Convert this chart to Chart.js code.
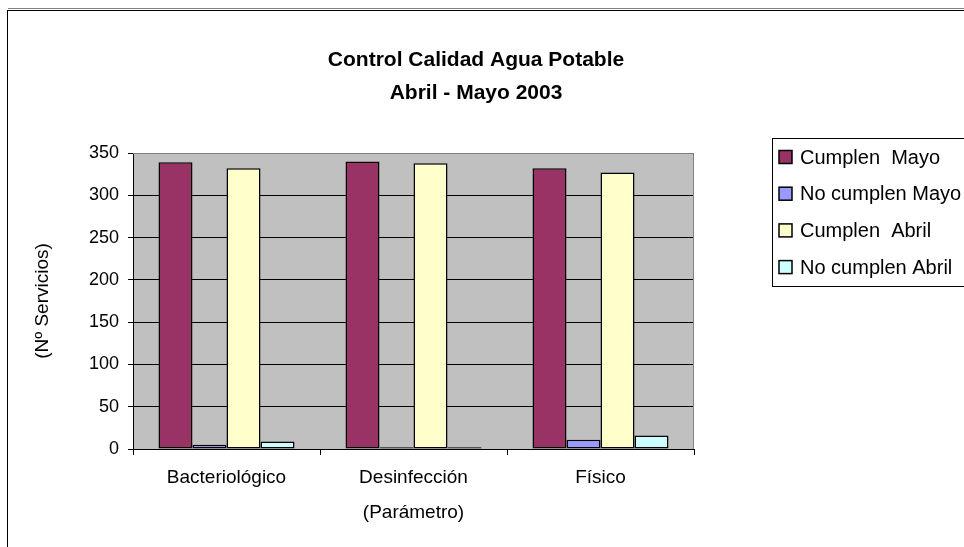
<!DOCTYPE html>
<html>
<head>
<meta charset="utf-8">
<script src="https://cdn.jsdelivr.net/npm/chart.js@4.4.1/dist/chart.umd.min.js"></script>
<style>
  body { margin: 0; background: #fff; }
  #chart { display: block; }
</style>
</head>
<body>
<canvas id="chart" width="964" height="547"></canvas>
<script>
// Data
const categories = ['Bacteriológico', 'Desinfección', 'Físico'];
const seriesNames = ['Cumplen  Mayo', 'No cumplen Mayo', 'Cumplen  Abril', 'No cumplen Abril'];
const cumplenMayo = [339, 340, 332];
const noCumplenMayo = [5, 2, 11];
const cumplenAbril = [332, 338, 327];
const noCumplenAbril = [9, 2, 16];
const seriesColors = ['#993366', '#9999FF', '#FFFFCC', '#CCFFFF'];
const titleLines = ['Control Calidad Agua Potable', 'Abril - Mayo 2003'];

const FONT = "'Liberation Sans', Arial, sans-serif";

// Excel-like frame: plot background, outer border, title and legend
const excelFrame = {
    id: 'excelFrame',
    beforeDraw(chart) {
        const { ctx, chartArea: a } = chart;
        ctx.save();
        ctx.fillStyle = '#C0C0C0';
        ctx.fillRect(a.left, a.top, a.right - a.left, a.bottom - a.top);
        ctx.restore();
    },
    beforeDatasetsDraw(chart) {
        const { ctx, chartArea: a } = chart;
        ctx.save();
        ctx.strokeStyle = '#808080';
        ctx.lineWidth = 1;
        ctx.beginPath();
        ctx.moveTo(a.left, a.top + 0.5);
        ctx.lineTo(a.right - 0.5, a.top + 0.5);
        ctx.lineTo(a.right - 0.5, a.bottom);
        ctx.stroke();
        ctx.restore();
    },
    afterDraw(chart) {
        const ctx = chart.ctx;
        ctx.save();
        // outer chart border
        ctx.strokeStyle = '#808080';
        ctx.beginPath();
        ctx.moveTo(8, 8.5);
        ctx.lineTo(964, 8.5);
        ctx.stroke();
        ctx.strokeStyle = '#000';
        ctx.strokeRect(7.5, 10.5, 1000, 600);

        // title
        ctx.fillStyle = '#000';
        ctx.font = 'bold 21px ' + FONT;
        ctx.textAlign = 'center';
        ctx.textBaseline = 'middle';
        ctx.fillText(titleLines[0], 476, 60);
        ctx.fillText(titleLines[1], 476, 93);

        // legend
        ctx.fillStyle = '#fff';
        ctx.fillRect(772, 138, 200, 148);
        ctx.strokeStyle = '#000';
        ctx.strokeRect(772.5, 138.5, 200, 148);
        ctx.font = '20px ' + FONT;
        ctx.textAlign = 'left';
        chart.data.datasets.forEach((ds, i) => {
            const y = 157 + i * 36.7;
            ctx.fillStyle = ds.backgroundColor;
            ctx.fillRect(779, y - 6.5, 13, 13);
            ctx.strokeStyle = '#000';
            ctx.lineWidth = 1.5;
            ctx.strokeRect(779, y - 6.5, 13, 13);
            ctx.fillStyle = '#000';
            ctx.fillText(ds.label, 800, y + 1);
        });
        ctx.restore();
    }
};

const seriesData = [cumplenMayo, noCumplenMayo, cumplenAbril, noCumplenAbril];

new Chart(document.getElementById('chart'), {
    type: 'bar',
    data: {
        labels: categories,
        datasets: seriesData.map((values, i) => ({
            label: seriesNames[i],
            data: values,
            backgroundColor: seriesColors[i],
            borderColor: '#000',
            borderWidth: 1.5,
            borderSkipped: false,
            categoryPercentage: 4 / 5.5,
            barPercentage: 1
        }))
    },
    options: {
        responsive: false,
        animation: false,
        layout: {
            padding: { left: 8, right: 270, top: 153, bottom: 0 }
        },
        plugins: {
            legend: { display: false },
            title: { display: false },
            tooltip: { enabled: false }
        },
        scales: {
            x: {
                grid: {
                    drawOnChartArea: false,
                    drawTicks: true,
                    tickLength: 6,
                    tickColor: '#000'
                },
                border: { color: '#000', width: 1 },
                ticks: {
                    color: '#000',
                    padding: 11,
                    font: { family: FONT, size: 19 }
                },
                title: {
                    display: true,
                    text: '(Parámetro)',
                    color: '#000',
                    font: { family: FONT, size: 19 },
                    padding: { top: 0, bottom: 23 }
                },
                afterFit(scale) { scale.height = 98; }
            },
            y: {
                min: 0,
                max: 350,
                grid: {
                    color: (c) => (c.tick && c.tick.value === 350 ? '#808080' : '#000'),
                    tickColor: '#000',
                    tickLength: 5
                },
                border: { color: '#000', width: 1 },
                ticks: {
                    stepSize: 50,
                    color: '#000',
                    padding: 9,
                    font: { family: FONT, size: 18 }
                },
                title: {
                    display: true,
                    text: '(Nº Servicios)',
                    color: '#000',
                    font: { family: FONT, size: 19 },
                    padding: { top: 23 }
                },
                afterFit(scale) { scale.width = 125; }
            }
        }
    },
    plugins: [excelFrame]
});
</script>
</body>
</html>
